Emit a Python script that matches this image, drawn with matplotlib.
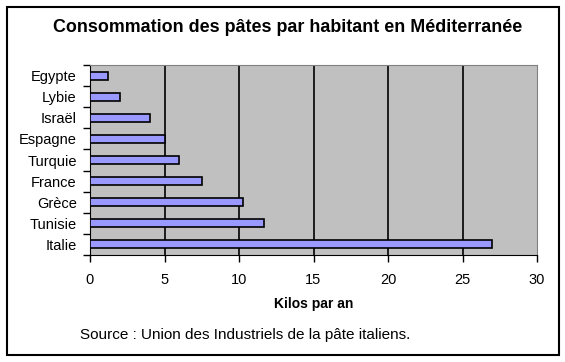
import matplotlib
matplotlib.use("Agg")
import matplotlib.pyplot as plt
import matplotlib.patches as patches

# data (top to bottom as shown)
pays = ["Egypte", "Lybie", "Israël", "Espagne", "Turquie", "France", "Grèce", "Tunisie", "Italie"]
kilos = [1.2, 2.0, 4.0, 5.0, 6.0, 7.5, 10.3, 11.7, 27.0]
xticks = [0, 5, 10, 15, 20, 25, 30]

plt.rcParams["font.family"] = ["Liberation Sans", "DejaVu Sans"]

W, H = 565, 362
fig = plt.figure(figsize=(W / 100, H / 100), dpi=100)
fig.patch.set_facecolor("white")

# outer frame
fig.add_artist(patches.Rectangle((6.5 / W, 1 - 355 / H), 552.5 / W, 348.5 / H,
                                 transform=fig.transFigure, fill=False,
                                 ec="black", lw=1.5))

ax = fig.add_axes([90 / W, 1 - 255 / H, 447 / W, 190 / H])
ax.set_facecolor("#C0C0C0")

y = list(range(len(pays)))
ax.barh(y, kilos, height=0.38, color="#9999FF", edgecolor="black", lw=1.2, zorder=3)
ax.set_ylim(len(pays) - 0.5, -0.5)
ax.set_xlim(0, 30)

ax.set_xticks(xticks)
ax.set_xticklabels([str(t) for t in xticks], fontsize=10.5)
ax.set_yticks(y)
ax.set_yticklabels(pays, fontsize=10.5)
ax.set_yticks([i - 0.5 for i in range(len(pays) + 1)], minor=True)
ax.tick_params(axis="y", which="major", length=0, pad=9.5)
ax.tick_params(axis="y", which="minor", length=5, width=1, direction="out")
ax.tick_params(axis="x", length=5, width=1, direction="out", pad=8)

for t in xticks[1:-1]:
    ax.axvline(t, color="black", lw=1.2, zorder=2)

for s in ["top", "right"]:
    ax.spines[s].set_color("#808080")
for s in ["left", "bottom"]:
    ax.spines[s].set_color("black")

ax.set_xlabel("Kilos par an", fontsize=10, fontweight="bold", labelpad=7)

fig.text(287.5 / W, 1 - 27 / H, "Consommation des pâtes par habitant en Méditerranée",
         ha="center", va="center", fontsize=12.9, fontweight="bold")
fig.text(80 / W, 1 - 335 / H, "Source : Union des Industriels de la pâte italiens.",
         ha="left", va="center", fontsize=11)

fig.savefig("out.png", dpi=100)
